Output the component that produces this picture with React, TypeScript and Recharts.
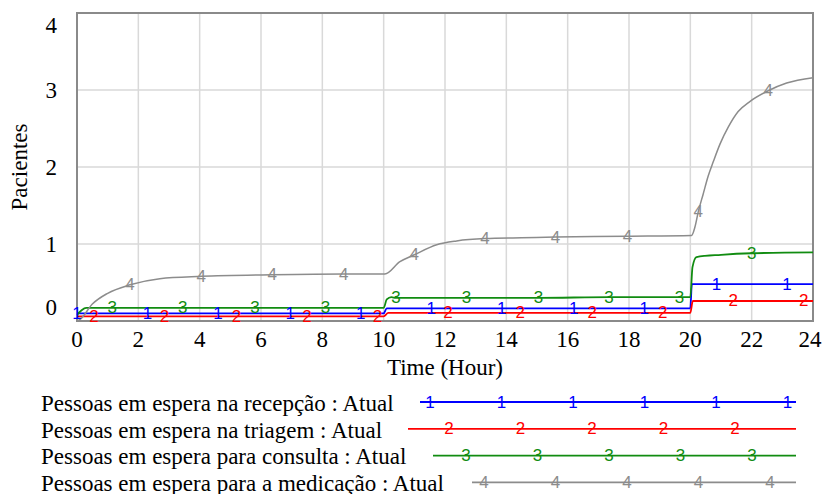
import { LineChart, Line, XAxis, YAxis, CartesianGrid, Legend, ReferenceArea } from "recharts";

const T1 = [0, 2.3, 4.6, 6.95, 9.25, 10.0, 10.1, 11.55, 13.85, 16.2, 18.5, 20.0, 20.05, 20.85, 23.15, 24];
const V1 = [0.1, 0.1, 0.1, 0.1, 0.1, 0.1, 0.165, 0.165, 0.165, 0.165, 0.165, 0.165, 0.48, 0.48, 0.48, 0.48];
const M1 = [0, 2.3, 4.6, 6.95, 9.25, 11.55, 13.85, 16.2, 18.5, 20.85, 23.15];

const T2 = [0, 0.55, 2.85, 5.2, 7.5, 9.8, 10.0, 10.15, 12.1, 14.45, 16.8, 19.1, 20.0, 20.08, 21.4, 23.7, 24];
const V2 = [0.06, 0.06, 0.06, 0.06, 0.06, 0.06, 0.06, 0.105, 0.105, 0.105, 0.105, 0.105, 0.105, 0.26, 0.26, 0.26, 0.26];
const M2 = [0.55, 2.85, 5.2, 7.5, 9.8, 12.1, 14.45, 16.8, 19.1, 21.4, 23.7];

const T3 = [0, 0.15, 0.3, 1.15, 3.45, 5.8, 8.1, 10.0, 10.1, 10.25, 10.4, 12.7, 15.05, 17.35, 19.65, 20.0, 20.07, 20.2, 21.0, 22.0, 24];
const V3 = [0.08, 0.14, 0.17, 0.17, 0.17, 0.17, 0.17, 0.17, 0.28, 0.31, 0.3, 0.3, 0.3, 0.31, 0.31, 0.31, 0.7, 0.83, 0.86, 0.88, 0.89];
const M3 = [1.15, 3.45, 5.8, 8.1, 10.4, 12.7, 15.05, 17.35, 19.65, 22.0];

const T4 = [0, 0.1, 0.5, 1.0, 1.73, 2.7, 4.05, 6.37, 8.7, 10.04, 10.53, 11.0, 11.73, 12.38, 13.3, 14.5, 15.6, 17.95, 20.04,
  20.15, 20.26, 20.42, 20.58, 20.75, 20.97, 21.24, 21.56, 21.94, 22.54, 23.14, 24];
const V4 = [0, 0.02, 0.22, 0.36, 0.47, 0.55, 0.58, 0.6, 0.61, 0.61, 0.77, 0.86, 0.99, 1.04, 1.07, 1.08, 1.09, 1.1, 1.11,
  1.22, 1.42, 1.65, 1.88, 2.07, 2.3, 2.52, 2.72, 2.85, 2.99, 3.09, 3.16];
const M4 = [1.73, 4.05, 6.37, 8.7, 11.0, 13.3, 15.6, 17.95, 20.26, 22.54];

const NAMES = [
  "Pessoas em espera na recepção : Atual",
  "Pessoas em espera na triagem : Atual",
  "Pessoas em espera para consulta : Atual",
  "Pessoas em espera para a medicação : Atual",
];
const X_TICKS = [0, 2, 4, 6, 8, 10, 12, 14, 16, 18, 20, 22, 24];
const Y_TICKS = [0, 1, 2, 3, 4];

const COLORS = ["#0000ff", "#ff0000", "#118c11", "#8c8c8c"];
const SERIF = "'Liberation Serif', 'Times New Roman', serif";
const SANS = "'Liberation Sans', Arial, sans-serif";

const series = [
  { t: T1, v: V1, m: M1 },
  { t: T2, v: V2, m: M2 },
  { t: T3, v: V3, m: M3 },
  { t: T4, v: V4, m: M4 },
].map((s) => s.t.map((t, i) => ({ t, v: s.v[i], mark: s.m.includes(t) })));

const markDot = (label: string, color: string) => (p: any) => {
  if (!p.payload.mark) return <g key={`n${p.index}`} />;
  return (
    <text key={`m${p.index}`} x={p.cx} y={p.cy} textAnchor="middle" dominantBaseline="central"
      fontSize={17} fontFamily={SANS} fill={color}>{label}</text>
  );
};

const YTick = ({ x, y, payload }: any) => {
  const v = payload.value;
  const dy = v === 4 ? 12 : v === 0 ? -14 : 0;
  return (
    <text x={x} y={y + dy} textAnchor="end" dominantBaseline="central" fontSize={23} fontFamily={SERIF} fill="#000">{v}</text>
  );
};

const XTick = ({ x, y, payload }: any) => {
  const dx = payload.value === 24 ? -3 : 0;
  return (
    <text x={x + dx} y={y + 16} textAnchor="middle" fontSize={23} fontFamily={SERIF} fill="#000">{payload.value}</text>
  );
};

// legend rows: text, then the series line with its id numbers
const LEG_START = [420, 408, 433, 472];
const LEG_PHASE = [430, 449, 466, 484];
function LegendBox() {
  return (
    <div style={{ position: "relative", width: 822, height: 113 }}>
      <svg width={822} height={113} style={{ position: "absolute", left: 0, top: 0 }}>
        {NAMES.map((_, i) => {
          const y = 21 + i * 26.8;
          const xs: number[] = [];
          for (let x = LEG_PHASE[i]; x <= 796; x += 71.5) xs.push(x);
          return (
            <g key={i}>
              <line x1={LEG_START[i]} x2={796} y1={y} y2={y} stroke={COLORS[i]} strokeWidth={1.8} />
              {xs.map((x) => (
                <text key={x} x={x} y={y} textAnchor="middle" dominantBaseline="central" fontSize={17}
                  fontFamily={SANS} fill={COLORS[i]}>{i + 1}</text>
              ))}
            </g>
          );
        })}
      </svg>
      {NAMES.map((n, i) => (
        <span key={n} style={{
          position: "absolute", left: 41, top: 10 + i * 26.5, lineHeight: "26px", fontSize: 23,
          fontFamily: SERIF, color: "#000", whiteSpace: "nowrap",
        }}>{n}</span>
      ))}
    </div>
  );
}

export default function App() {
  return (
    <div style={{ position: "absolute", left: 0, top: 0, width: 822, height: 494, background: "#fff" }}>
      <LineChart width={822} height={494} margin={{ top: 13, right: 9, left: 0, bottom: 0 }}>
        <CartesianGrid stroke="#d9d9d9" strokeWidth={1.5} />
        <XAxis dataKey="t" type="number" domain={[0, 24]} ticks={X_TICKS} axisLine={false} tickLine={false}
          tickSize={0} tickMargin={10} height={60} interval={0} tick={<XTick />}
          label={{ value: "Time (Hour)", position: "insideBottom", offset: 6, fontSize: 23, fontFamily: SERIF, fill: "#000" }} />
        <YAxis type="number" domain={[0, 4]} ticks={Y_TICKS} axisLine={false} tickLine={false}
          tickSize={0} tickMargin={20} width={77} interval={0} tick={<YTick />}
          label={{ value: "Pacientes", angle: -90, position: "insideLeft", offset: 19, fontSize: 23,
            fontFamily: SERIF, fill: "#000", style: { textAnchor: "middle" } }} />
        <ReferenceArea x1={0} x2={24} y1={0} y2={4} fill="none" stroke="#8a8a8a" strokeWidth={2} />
        {series.map((d, i) => (
          <Line key={i} data={d} dataKey="v" type="monotone" stroke={COLORS[i]}
            strokeWidth={i === 3 ? 1.5 : 1.8} dot={markDot(String(i + 1), COLORS[i])}
            activeDot={false} isAnimationActive={false} />
        ))}
        <Legend verticalAlign="bottom" content={() => <LegendBox />}
          wrapperStyle={{ left: 0, bottom: 0, width: 822 }} />
      </LineChart>
    </div>
  );
}
